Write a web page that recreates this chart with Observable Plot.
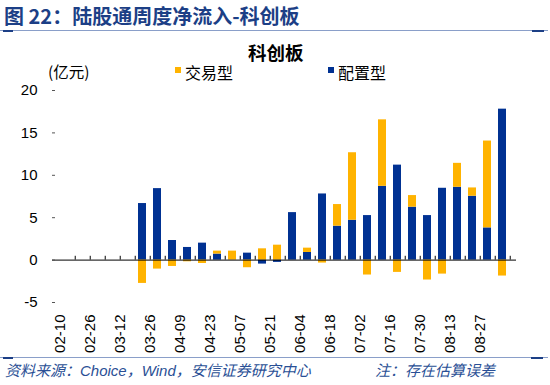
<!DOCTYPE html>
<html><head><meta charset="utf-8">
<script src="https://cdn.jsdelivr.net/npm/d3@7"></script>
<script src="https://cdn.jsdelivr.net/npm/@observablehq/plot@0.6"></script>
<style>
body{margin:0;background:#fff;}
#wrap{position:relative;width:550px;height:385px;overflow:hidden;font-family:"Liberation Sans",Arial,"Noto Sans CJK SC",sans-serif;}
.abs{position:absolute;white-space:nowrap;line-height:1;}
#chart{position:absolute;left:0;top:0;}
</style></head>
<body><div id="wrap">
<div class="abs" style="left:4px;top:6px;font-size:20px;font-weight:bold;color:#1c3f86;font-family:'Noto Sans CJK SC',sans-serif;">图 22：陆股通周度净流入-科创板</div>
<div class="abs" style="left:0;top:29.5px;width:548px;height:1.5px;background:#8a9fc9;"></div>
<div class="abs" style="left:3px;top:29.5px;width:10px;height:2px;background:#1c3f86;"></div>
<div class="abs" style="left:532px;top:29.5px;width:12px;height:2px;background:#1c3f86;"></div>
<div id="chart"></div>
<div class="abs" style="left:248px;top:43px;font-size:18.5px;font-weight:bold;color:#000;font-family:'Noto Sans CJK SC',sans-serif;">科创板</div>
<div class="abs" style="left:48px;top:64px;font-size:15.5px;color:#000;font-family:'Noto Sans CJK SC',sans-serif;">(亿元)</div>
<div class="abs" id="leg" style="left:0;top:0;"></div>
<div class="abs" style="left:0;top:356.5px;width:548px;height:1.5px;background:#8a9fc9;"></div>
<div class="abs" style="left:3px;top:356.5px;width:10px;height:2px;background:#1c3f86;"></div>
<div class="abs" style="left:531px;top:356.5px;width:12px;height:2px;background:#1c3f86;"></div>
<div class="abs" style="left:5px;top:362px;font-size:15px;font-style:italic;color:#2a4f95;font-family:'Noto Sans CJK SC',sans-serif;">资料来源：<span style="font-family:'Liberation Sans',Arial">Choice</span>，<span style="font-family:'Liberation Sans',Arial">Wind</span>，安信证券研究中心</div>
<div class="abs" style="left:375px;top:362px;font-size:15px;font-style:italic;color:#2a4f95;font-family:'Noto Sans CJK SC',sans-serif;">注：存在估算误差</div>
</div>
<script>
const dates = ["02-10","02-19","02-26","03-05","03-12","03-19","03-26","04-02","04-09","04-16","04-23","04-30","05-07","05-14","05-21","05-28","06-04","06-11","06-18","06-25","07-02","07-09","07-16","07-23","07-30","08-06","08-13","08-20","08-27","09-03"];
const seriesNames = ["交易型","配置型"];
const seriesColors = ["#FFB300","#003192"];
const trade = [0,0,0,0,0,-2.75,-1.06,-0.75,-0.2,-0.4,0.35,1.06,-0.9,1.33,1.76,0,0.51,-0.35,2.55,7.96,-1.76,7.84,-1.45,1.37,-2.35,-1.65,2.82,0.98,10.24,-1.88];
const alloc = [0,0,0,0,0,6.67,8.43,2.31,1.49,2.0,0.71,0,0.82,-0.47,-0.27,5.6,0.9,7.8,4.0,4.7,5.25,8.7,11.2,6.24,5.25,8.47,8.59,7.53,3.8,17.8];
const yTicks = [-5,0,5,10,15,20];
const labelDates = dates.filter((d,i)=>i%2===0);

const rows = [
  ...dates.map((d,i)=>({date:d, type:"配置型", value:alloc[i]})),
  ...dates.map((d,i)=>({date:d, type:"交易型", value:trade[i]}))
];

const W=550,H=385,mL=52,mR=34,mT=90,mB=83;
const step=(W-mL-mR)/dates.length;

const chart = Plot.plot({
  width:W, height:H, marginLeft:mL, marginRight:mR, marginTop:mT, marginBottom:mB,
  style:{fontFamily:"'Liberation Sans',Arial,sans-serif", fontSize:"15px", color:"#000", background:"transparent"},
  x:{type:"band", domain:dates, paddingInner:0.5, paddingOuter:0.25, label:null},
  y:{domain:[-5,20], label:null},
  color:{domain:["配置型","交易型"], range:[seriesColors[1], seriesColors[0]]},
  marks:[
    Plot.barY(rows, {x:"date", y:"value", fill:"type"}),
    Plot.ruleY([0], {stroke:"#000", strokeWidth:1}),
    Plot.ruleX(dates, {x:d=>d, y1:0, y2:0.45, dx:step/2, stroke:"#000"}),
    Plot.axisY({ticks:yTicks, tickSize:-3, tickPadding:18, line:true, tickFormat:d=>String(d), label:null, stroke:"#555"}),
    Plot.axisX({ticks:labelDates, tickSize:0, tickRotate:-90, tickPadding:12, dx:-7.5, label:null})
  ]
});
document.getElementById("chart").appendChild(chart);

const leg = document.getElementById("leg");
const legPos = [175, 328];
seriesNames.forEach((n,i)=>{
  const sw = document.createElement("div");
  sw.className="abs";
  sw.style.cssText=`left:${legPos[i]}px;top:67px;width:6px;height:6px;background:${seriesColors[i]};`;
  leg.appendChild(sw);
  const t = document.createElement("div");
  t.className="abs";
  t.style.cssText=`left:${legPos[i]+10}px;top:64px;font-size:16px;color:#000;font-family:'Noto Sans CJK SC',sans-serif;`;
  t.textContent=n;
  leg.appendChild(t);
});
</script>
</body></html>
